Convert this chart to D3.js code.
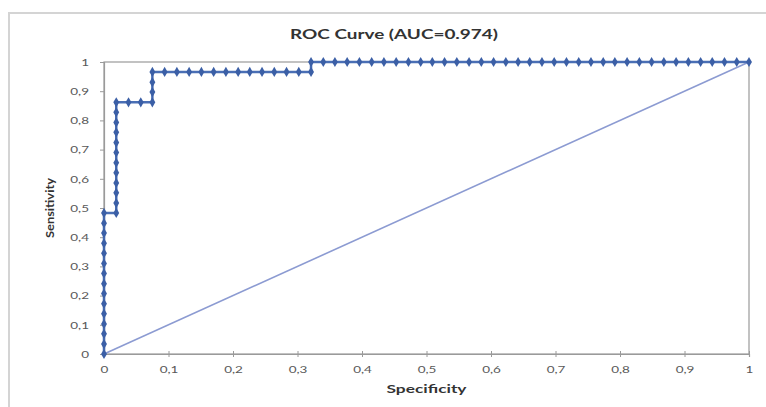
<!DOCTYPE html>
<html>
<head>
<meta charset="utf-8">
<title>ROC Curve</title>
<script src="https://d3js.org/d3.v7.min.js"></script>
<style>
  body { margin: 0; background: #fff; }
  text { font-family: Lato, "Open Sans", sans-serif; }
</style>
</head>
<body>
<div id="chart"></div>
<script>
// curve points (1 - specificity on x, sensitivity on y)
let specificity = [
  0, 0, 0, 0, 0, 0, 0, 0, 0, 0, 0, 0, 0, 0, 0,
  0.019,
  0.019, 0.019, 0.019, 0.019, 0.019, 0.019, 0.019, 0.019, 0.019, 0.019, 0.019,
  0.038, 0.057, 0.075,
  0.075, 0.075, 0.075,
  0.094, 0.113, 0.132, 0.151, 0.170, 0.189, 0.208, 0.226, 0.245, 0.264, 0.283, 0.302, 0.321,
  0.321,
  0.340, 0.358, 0.377, 0.396, 0.415, 0.434, 0.453, 0.472, 0.491, 0.509, 0.528, 0.547,
  0.566, 0.585, 0.604, 0.623, 0.642, 0.660, 0.679, 0.698, 0.717, 0.736, 0.755, 0.774,
  0.792, 0.811, 0.830, 0.849, 0.868, 0.887, 0.906, 0.925, 0.943, 0.962, 0.981, 1
];
let sensitivity = [
  0, 0.034, 0.069, 0.103, 0.138, 0.172, 0.207, 0.241, 0.276, 0.310, 0.345, 0.379, 0.414, 0.448, 0.483,
  0.483,
  0.517, 0.552, 0.586, 0.621, 0.655, 0.690, 0.724, 0.759, 0.793, 0.828, 0.862,
  0.862, 0.862, 0.862,
  0.897, 0.931, 0.966,
  0.966, 0.966, 0.966, 0.966, 0.966, 0.966, 0.966, 0.966, 0.966, 0.966, 0.966, 0.966, 0.966,
  1,
  1, 1, 1, 1, 1, 1, 1, 1, 1, 1, 1, 1,
  1, 1, 1, 1, 1, 1, 1, 1, 1, 1, 1, 1,
  1, 1, 1, 1, 1, 1, 1, 1, 1, 1, 1, 1
];
let diagonal = [0, 1];

let ticks = [0, 0.1, 0.2, 0.3, 0.4, 0.5, 0.6, 0.7, 0.8, 0.9, 1];
let tickLabels = ['0', '0,1', '0,2', '0,3', '0,4', '0,5', '0,6', '0,7', '0,8', '0,9', '1'];

let svgw = 766;
let svgh = 407;
let margin = {top: 62, right: 17, bottom: 53, left: 104};
let vizw = svgw - margin.left - margin.right;
let vizh = svgh - margin.top - margin.bottom;

// the original picture is stretched sideways, so texts get widened
function stretch(sel, k) {
  sel.each(function() {
    let w = this.getComputedTextLength();
    d3.select(this).attr('textLength', w * k).attr('lengthAdjust', 'spacingAndGlyphs');
  });
}

let svg = d3.select('#chart').append('svg')
  .attr('width', svgw)
  .attr('height', svgh);

// outer chart frame
svg.append('rect')
  .attr('x', 9).attr('y', 13)
  .attr('width', svgw + 20).attr('height', svgh + 20)
  .attr('fill', 'none')
  .attr('stroke', '#d4d4d4')
  .attr('stroke-width', 2);

let x = d3.scaleLinear().domain([0, 1]).range([0, vizw]);
let y = d3.scaleLinear().domain([0, 1]).range([vizh, 0]);

let g = svg.append('g').attr('transform', `translate(${margin.left},${margin.top})`);

// plot area border
g.append('rect')
  .attr('width', vizw).attr('height', vizh)
  .attr('fill', 'none')
  .attr('stroke', '#9a9a9a')
  .attr('stroke-width', 1.2);

let xAxis = g.append('g')
  .attr('transform', `translate(0,${vizh})`)
  .call(d3.axisBottom(x).tickValues(ticks).tickFormat((d, i) => tickLabels[i]).tickSize(3).tickPadding(9));
xAxis.selectAll('.tick line').attr('y1', -3).attr('stroke', '#9a9a9a');
xAxis.select('.domain').attr('stroke', '#9a9a9a').attr('stroke-width', 1.2);
xAxis.selectAll('text').attr('fill', '#595959').style('font-size', '10px').call(stretch, 1.35);

let yAxis = g.append('g')
  .call(d3.axisLeft(y).tickValues(ticks).tickFormat((d, i) => tickLabels[i]).tickSize(4).tickPadding(11));
yAxis.selectAll('.tick line').attr('stroke', '#9a9a9a');
yAxis.select('.domain').attr('stroke', '#9a9a9a').attr('stroke-width', 1.2);
yAxis.selectAll('text').attr('fill', '#595959').style('font-size', '10px').call(stretch, 1.35);

// chance line
g.append('line')
  .attr('x1', x(diagonal[0])).attr('y1', y(diagonal[0]))
  .attr('x2', x(diagonal[1])).attr('y2', y(diagonal[1]))
  .attr('stroke', '#8c9bd2')
  .attr('stroke-width', 1.6);

let pts = specificity.map((v, i) => [v, sensitivity[i]]);

g.append('path')
  .datum(pts)
  .attr('d', d3.line().x(d => x(d[0])).y(d => y(d[1])))
  .attr('fill', 'none')
  .attr('stroke', '#4a6fb5')
  .attr('stroke-width', 2.5);

g.selectAll('path.mark')
  .data(pts)
  .enter()
  .append('path')
  .attr('class', 'mark')
  .attr('transform', d => `translate(${x(d[0])},${y(d[1])})`)
  .attr('d', d3.symbol(d3.symbolDiamond, 30))
  .attr('fill', '#3b5fa6');

svg.append('text')
  .attr('x', 394).attr('y', 39)
  .attr('text-anchor', 'middle')
  .attr('fill', '#333')
  .style('font-size', '13px')
  .style('font-weight', 'bold')
  .text('ROC Curve (AUC=0.974)')
  .attr('textLength', 208)
  .attr('lengthAdjust', 'spacingAndGlyphs');

svg.append('text')
  .attr('x', margin.left + vizw / 2).attr('y', 393)
  .attr('text-anchor', 'middle')
  .attr('fill', '#333')
  .style('font-size', '11px')
  .style('font-weight', 'bold')
  .text('Specificity')
  .attr('textLength', 80)
  .attr('lengthAdjust', 'spacingAndGlyphs');

svg.append('text')
  .attr('transform', `translate(54,${margin.top + vizh / 2}) rotate(-90)`)
  .attr('text-anchor', 'middle')
  .attr('fill', '#333')
  .style('font-size', '11px')
  .style('font-weight', 'bold')
  .text('Sensitivity')
  .attr('textLength', 60)
  .attr('lengthAdjust', 'spacingAndGlyphs');
</script>
</body>
</html>
